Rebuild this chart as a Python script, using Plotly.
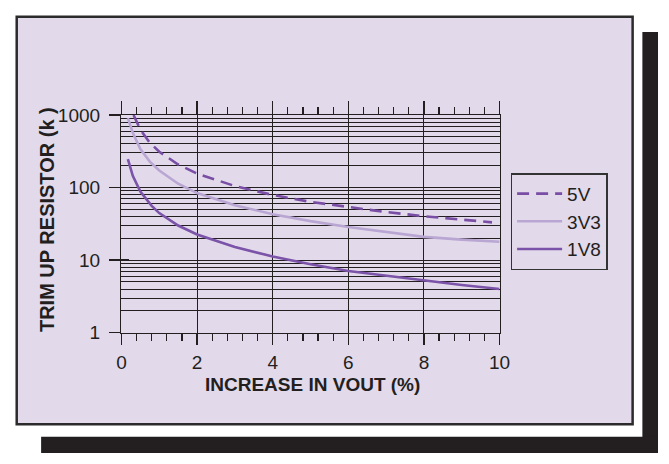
import plotly.graph_objects as go

# ---- data ----
x_5v = [0.32, 0.5, 0.75, 1.0, 1.5, 2.0, 3.0, 4.0, 5.0, 6.0, 7.0, 8.0, 9.0, 9.8]
y_5v = [1000, 630, 415, 312, 208, 156, 105, 79, 63.5, 53.5, 46, 40.3, 36, 33.2]

x_3v3 = [0.17, 0.3, 0.5, 0.75, 1.0, 1.5, 2.0, 3.0, 4.0, 5.0, 6.0, 7.0, 8.0, 9.0, 10.0]
y_3v3 = [905, 570, 340, 228, 172, 113, 84, 57, 43, 34.5, 28.6, 24.5, 20.9, 19.2, 17.9]

x_1v8 = [0.17, 0.3, 0.5, 0.8, 1.0, 1.5, 2.0, 3.0, 4.0, 5.0, 6.0, 7.0, 8.0, 9.0, 10.0]
y_1v8 = [247, 145, 88, 56, 44.5, 30, 22.6, 15.2, 11.2, 8.8, 7.1, 6.1, 5.25, 4.55, 4.0]

series_names = ["5V", "3V3", "1V8"]
x_ticks = [0, 2, 4, 6, 8, 10]
y_ticks = [1, 10, 100, 1000]
y_ticklabels = ["1", "10", "100", "1000"]
y_minor = [m * 10 ** e for e in range(3) for m in range(2, 10)]

W, H = 669, 464
INK = "#231F20"
LAV = "#E2DAEB"
FONT = "Liberation Sans, Arial, sans-serif"


def px(xp):
    return xp / W


def py(yp):
    return 1 - yp / H


fig = go.Figure()
fig.add_trace(go.Scatter(x=x_5v, y=y_5v, name=series_names[0], mode="lines",
                         legendgroup="a",
                         line=dict(color="#7A4EA5", width=2.6, dash="12px,7px")))
fig.add_trace(go.Scatter(x=x_3v3, y=y_3v3, name=series_names[1], mode="lines",
                         legendgroup="b",
                         line=dict(color="#B9A6D3", width=2.6)))
fig.add_trace(go.Scatter(x=x_1v8, y=y_1v8, name=series_names[2], mode="lines",
                         legendgroup="c",
                         line=dict(color="#7B53A8", width=2.6)))
# invisible trace to activate overlay axes
fig.add_trace(go.Scatter(x=[0, 10], y=[1, 1000], xaxis="x2", yaxis="y2", mode="lines",
                         line=dict(width=0), showlegend=False, hoverinfo="skip"))

xd = [px(119.3), px(506.7)]
yd = [py(338), py(110)]

fig.update_layout(
    autosize=True,
    margin=dict(l=0, r=0, t=0, b=0, pad=0),
    paper_bgcolor="white",
    plot_bgcolor="white",
    font=dict(family=FONT, color=INK, size=19),
    showlegend=True,
    legend=dict(x=px(518), y=py(171), xanchor="left", yanchor="top",
                bgcolor="rgba(0,0,0,0)", bordercolor="#333333", borderwidth=1.5,
                font=dict(size=19, color=INK), itemwidth=45,
                tracegroupgap=0, traceorder="grouped"),
    xaxis=dict(domain=xd, range=[0, 10], tickvals=x_ticks, ticks="outside", ticklen=11,
               tickwidth=1.5, tickcolor=INK, showline=True, linecolor=INK, linewidth=1.5,
               mirror=True, showgrid=True, gridcolor=INK, gridwidth=1, zeroline=False,
               tickfont=dict(size=19), ticklabelstandoff=1,
               minor=dict(dtick=0.4, tick0=0, ticks="outside", ticklen=7, tickwidth=1.2,
                          tickcolor=INK, showgrid=False)),
    xaxis2=dict(domain=xd, range=[0, 10], overlaying="x", side="top", anchor="y",
                tickvals=x_ticks, ticks="outside", ticklen=13, tickwidth=1.5, tickcolor=INK,
                showticklabels=False, showgrid=False, zeroline=False, showline=False,
                minor=dict(dtick=0.4, tick0=0, ticks="outside", ticklen=7, tickwidth=1.2,
                           tickcolor=INK, showgrid=False)),
    yaxis=dict(domain=yd, type="log", range=[0, 3], tickvals=y_ticks, ticktext=y_ticklabels,
               ticks="outside", ticklen=11, tickwidth=1.5, tickcolor=INK,
               showline=True, linecolor=INK, linewidth=1.5, mirror=True,
               showgrid=True, gridcolor=INK, gridwidth=1, zeroline=False,
               tickfont=dict(size=19), ticklabelstandoff=5,
               minor=dict(tickvals=y_minor, showgrid=True, gridcolor=INK, gridwidth=1,
                          ticks="")),
    yaxis2=dict(domain=yd, type="log", range=[0, 3], overlaying="y", side="left", anchor="x",
                tickvals=y_ticks, ticks="inside", ticklen=8, tickwidth=1.5, tickcolor=INK,
                showticklabels=False, showgrid=False, zeroline=False, showline=False),
    shapes=[
        # black drop shadow
        dict(type="rect", xref="paper", yref="paper", x0=px(653), x1=px(669), y0=py(464), y1=py(23),
             fillcolor=INK, line=dict(width=0), layer="below"),
        dict(type="rect", xref="paper", yref="paper", x0=px(37), x1=px(669), y0=py(464), y1=py(447),
             fillcolor=INK, line=dict(width=0), layer="below"),
        # lavender panel
        dict(type="rect", xref="paper", yref="paper", x0=px(12), x1=px(643), y0=py(434), y1=py(7),
             fillcolor=LAV, line=dict(color="#2B2B2B", width=2.5), layer="below"),
    ],
    annotations=[
        dict(text="<b>INCREASE IN VOUT (%)</b>", xref="paper", yref="paper",
             x=px(315), y=py(392), xanchor="center", yanchor="middle", showarrow=False,
             font=dict(size=19, color=INK, family=FONT)),
        dict(text="<b>TRIM UP RESISTOR (k )</b>", xref="paper", yref="paper",
             x=px(43), y=py(219), xanchor="center", yanchor="middle", showarrow=False,
             textangle=-90, font=dict(size=20, color=INK, family=FONT)),
    ],
)

# fixed-position div of exactly the window size, so the page never overflows
fig.write_html("out.html",
               config={"displayModeBar": False, "staticPlot": True},
               default_width="%dpx; position:fixed; left:0; top:0; margin:0" % W,
               default_height="%dpx" % H)
